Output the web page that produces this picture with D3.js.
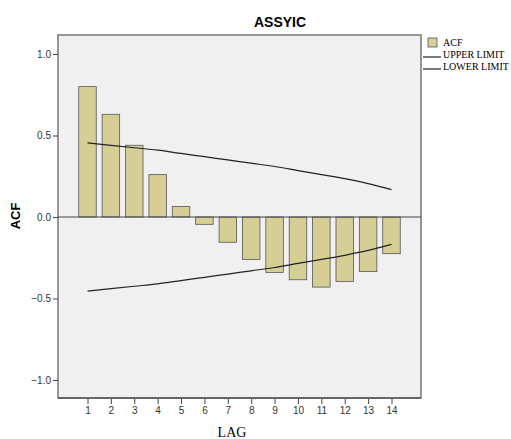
<!DOCTYPE html>
<meta charset="utf-8">
<style>
body { margin: 0; background: #fff; }
.tick text { font: 10px Arial, "Liberation Sans", sans-serif; fill: #333; }
.axis .domain { display: none; }
.axis line { stroke: #444; }
</style>
<svg width="511" height="439"></svg>
<script src="https://cdn.jsdelivr.net/npm/d3@7"></script>
<script>
// values
var lags = [1, 2, 3, 4, 5, 6, 7, 8, 9, 10, 11, 12, 13, 14];
var acf = [0.80, 0.63, 0.44, 0.26, 0.065, -0.045, -0.155, -0.26, -0.34, -0.385, -0.43, -0.395, -0.335, -0.225];
var upper = [0.455, 0.44, 0.425, 0.41, 0.39, 0.37, 0.35, 0.33, 0.31, 0.285, 0.26, 0.235, 0.205, 0.168];
var lower = [-0.455, -0.44, -0.425, -0.41, -0.39, -0.37, -0.35, -0.33, -0.31, -0.285, -0.26, -0.235, -0.205, -0.168];
var yTicks = [-1.0, -0.5, 0.0, 0.5, 1.0];
var legendItems = ["ACF", "UPPER LIMIT", "LOWER LIMIT"];

var svg = d3.select("svg");
var plot = {left: 58, top: 35, right: 421, bottom: 398};

var x = d3.scaleLinear().domain([1, 14]).range([87.5, 391.5]);
var y = d3.scaleLinear().domain([-1, 1]).range([380, 54]);
var barW = 17.5;

svg.append("rect")
    .attr("x", plot.left).attr("y", plot.top)
    .attr("width", plot.right - plot.left).attr("height", plot.bottom - plot.top)
    .attr("fill", "#f0f0f0").attr("stroke", "#777").attr("stroke-width", 1.5);

// bars
svg.append("g").selectAll("rect")
  .data(lags)
  .enter().append("rect")
    .attr("x", (d) => x(d) - barW / 2)
    .attr("y", (d, i) => acf[i] >= 0 ? y(acf[i]) : y(0))
    .attr("width", barW)
    .attr("height", (d, i) => Math.abs(y(acf[i]) - y(0)))
    .attr("fill", "#d5cf96")
    .attr("stroke", "#555")
    .attr("stroke-width", 0.8);

// zero line
svg.append("line")
    .attr("x1", plot.left).attr("x2", plot.right)
    .attr("y1", y(0)).attr("y2", y(0))
    .attr("stroke", "#444").attr("stroke-width", 1.2);

// confidence limits
var line = d3.line()
    .x((d) => x(d[0]))
    .y((d) => y(d[1]))
    .curve(d3.curveMonotoneX);
[upper, lower].forEach(function(s) {
  svg.append("path")
      .datum(lags.map((l, i) => [l, s[i]]))
      .attr("d", line)
      .attr("fill", "none")
      .attr("stroke", "#222")
      .attr("stroke-width", 1.2);
});

// axes
svg.append("g")
    .attr("class", "axis")
    .attr("transform", "translate(" + plot.left + ",0)")
    .call(d3.axisLeft(y).tickValues(yTicks).tickSize(5).tickPadding(2).tickFormat(d3.format(".1f")));

svg.append("g")
    .attr("class", "axis")
    .attr("transform", "translate(0," + plot.bottom + ")")
    .call(d3.axisBottom(x).tickValues(lags).tickSize(6).tickPadding(3).tickFormat(d3.format("d")));

// frame bottom line thicker
svg.append("line")
    .attr("x1", plot.left).attr("x2", plot.right)
    .attr("y1", plot.bottom).attr("y2", plot.bottom)
    .attr("stroke", "#666").attr("stroke-width", 2);

// titles
svg.append("text")
    .attr("x", 280).attr("y", 27)
    .attr("text-anchor", "middle")
    .style("font", "bold 14px Arial, 'Liberation Sans', sans-serif")
    .text("ASSYIC");

svg.append("text")
    .attr("transform", "translate(20,216) rotate(-90)")
    .attr("text-anchor", "middle")
    .style("font", "bold 13px Arial, 'Liberation Sans', sans-serif")
    .text("ACF");

svg.append("text")
    .attr("x", 232).attr("y", 437)
    .attr("text-anchor", "middle")
    .style("font", "14px 'Times New Roman', 'Liberation Serif', serif")
    .text("LAG");

// legend
var legend = svg.append("g").selectAll("g")
  .data(legendItems)
  .enter().append("g")
    .attr("transform", (d, i) => "translate(0," + (i * 12) + ")");
legend.each(function(d, i) {
  var g = d3.select(this);
  if (i === 0) {
    g.append("rect").attr("x", 428).attr("y", 38).attr("width", 9).attr("height", 9)
      .attr("fill", "#d5cf96").attr("stroke", "#555").attr("stroke-width", 0.8);
  } else {
    g.append("line").attr("x1", 423).attr("x2", 441).attr("y1", 45).attr("y2", 45)
      .attr("stroke", "#222").attr("stroke-width", 1.2);
  }
  g.append("text")
    .attr("x", 443).attr("y", 46)
    .style("font", "10px 'Times New Roman', 'Liberation Serif', serif")
    .text(d);
});
</script>
